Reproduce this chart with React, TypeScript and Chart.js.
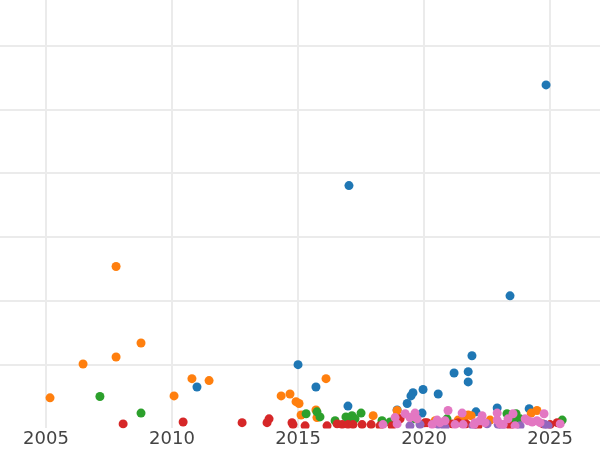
import React, { useEffect, useRef } from "react";
import { Chart, registerables } from "chart.js";

Chart.register(...registerables);

// x: year, y: value (gridline step 10)
const blueX = [2024.84, 2017.02, 2023.41, 2015.0, 2021.9, 2021.75, 2021.19, 2021.75, 2015.71, 2010.99, 2019.96, 2020.56, 2019.56, 2019.48, 2019.33, 2016.98, 2018.93, 2019.92, 2022.06, 2022.9, 2024.17];
const blueY = [53.9, 38.1, 20.8, 10.0, 11.4, 8.9, 8.7, 7.3, 6.5, 6.5, 6.1, 5.4, 5.6, 5.1, 3.9, 3.5, 2.9, 2.4, 2.6, 3.2, 3.1];

const orangeX = [2007.78, 2006.47, 2007.78, 2008.77, 2005.16, 2010.79, 2011.47, 2010.08, 2014.33, 2014.68, 2014.92, 2015.04, 2016.11, 2015.71, 2015.12, 2015.75, 2017.98, 2018.93, 2018.89, 2020.44, 2021.59, 2021.75, 2021.87, 2021.35, 2022.62, 2024.25, 2024.48];
const orangeY = [25.4, 10.1, 11.2, 13.4, 4.8, 7.8, 7.5, 5.1, 5.1, 5.4, 4.2, 3.9, 7.8, 2.9, 2.1, 1.7, 2.0, 2.8, 1.8, 1.2, 1.7, 2.1, 2.0, 1.3, 1.3, 2.4, 2.8];

const greenX = [2007.14, 2008.77, 2015.32, 2015.75, 2015.87, 2016.47, 2016.9, 2017.14, 2017.5, 2016.98, 2017.26, 2018.33, 2018.65, 2020.91, 2023.29, 2023.53, 2023.81, 2023.65, 2025.48, 2019.64];
const greenY = [5.0, 2.4, 2.3, 2.6, 1.8, 1.2, 1.8, 2.0, 2.4, 1.5, 1.5, 1.2, 1.0, 1.5, 2.3, 1.3, 1.5, 2.3, 1.3, 1.5];

const redX = [2008.06, 2010.44, 2012.78, 2013.77, 2013.85, 2014.76, 2014.8, 2015.28, 2016.15, 2016.55, 2016.75, 2016.98, 2017.18, 2017.54, 2017.9, 2018.25, 2018.73, 2019.05, 2020.04, 2020.12, 2021.11, 2021.35, 2021.67, 2022.14, 2023.41, 2024.72, 2025.0, 2025.28];
const redY = [0.7, 1.0, 0.9, 0.9, 1.5, 0.9, 0.6, 0.4, 0.4, 0.7, 0.6, 0.6, 0.6, 0.6, 0.6, 0.4, 0.4, 1.5, 0.9, 0.9, 0.7, 0.9, 0.7, 0.4, 0.4, 0.7, 0.6, 0.9];

const purpleX = [2019.44, 2019.84, 2020.56, 2020.83, 2021.94, 2022.5, 2022.94, 2023.1, 2023.81, 2024.8, 2024.92];
const purpleY = [0.4, 0.6, 0.6, 0.2, 0.4, 0.7, 0.6, 0.4, 0.4, 0.6, 0.4];

const pinkX = [2018.85, 2019.25, 2019.64, 2019.44, 2019.72, 2018.37, 2018.93, 2020.95, 2021.51, 2022.3, 2022.9, 2023.53, 2024.76, 2024.48, 2020.32, 2020.63, 2020.83, 2021.23, 2021.55, 2022.02, 2022.22, 2022.42, 2022.9, 2023.02, 2023.14, 2023.33, 2023.61, 2024.01, 2024.13, 2024.29, 2024.6, 2025.4, 2021.98, 2020.52];
const pinkY = [1.7, 2.3, 2.4, 1.7, 1.5, 0.6, 0.7, 2.8, 2.4, 2.0, 2.4, 2.3, 2.3, 1.2, 0.6, 0.9, 1.2, 0.6, 0.6, 0.9, 1.2, 0.9, 1.3, 0.7, 0.6, 1.5, 0.4, 1.5, 1.2, 1.0, 0.9, 0.7, 0.6, 1.3];

const xTicks = [2005, 2010, 2015, 2020, 2025];
const yTicks = [10, 20, 30, 40, 50, 60];

const seriesX = [blueX, orangeX, greenX, redX, purpleX, pinkX];
const seriesY = [blueY, orangeY, greenY, redY, purpleY, pinkY];
const seriesColors = ["#1f77b4", "#ff7f0e", "#2ca02c", "#d62728", "#9467bd", "#e377c2"];

export default function App() {
  const ref = useRef<HTMLCanvasElement>(null);
  useEffect(() => {
    if (!ref.current) return;
    const datasets = seriesX.map((xs, i) => ({
      label: "s" + i,
      data: xs.map((x, j) => ({ x, y: seriesY[i][j] })),
      backgroundColor: seriesColors[i],
      borderColor: seriesColors[i],
      borderWidth: 0,
      pointRadius: 4.5,
      pointHoverRadius: 4.5,
      order: seriesX.length - i,
      clip: 0,
    }));
    const chart = new Chart(ref.current, {
      type: "scatter",
      data: { datasets },
      options: {
        animation: false,
        responsive: false,
        layout: { padding: 0, autoPadding: false },
        plugins: { legend: { display: false }, tooltip: { enabled: false } },
        scales: {
          x: {
            type: "linear",
            min: 2003.175,
            max: 2026.98,
            afterBuildTicks: (axis: any) => {
              axis.ticks = xTicks.map((v) => ({ value: v }));
            },
            border: { display: false },
            grid: { color: "#ebebeb", lineWidth: 2, drawTicks: false },
            ticks: {
              padding: 0,
              color: "#444",
              font: { family: "DejaVu Sans", size: 18 },
              callback: (v: any) => String(v),
              maxRotation: 0,
            },
          },
          y: {
            type: "linear",
            min: 0,
            max: 67.22,
            afterBuildTicks: (axis: any) => {
              axis.ticks = yTicks.map((v) => ({ value: v }));
            },
            border: { display: false },
            grid: { color: "#ebebeb", lineWidth: 2, drawTicks: false },
            ticks: { display: false },
          },
        },
      },
    });
    return () => chart.destroy();
  }, []);
  return (
    <div style={{ position: "absolute", left: 0, top: 0, width: 600, height: 450, background: "#fff" }}>
      <canvas ref={ref} width={600} height={450} />
    </div>
  );
}
